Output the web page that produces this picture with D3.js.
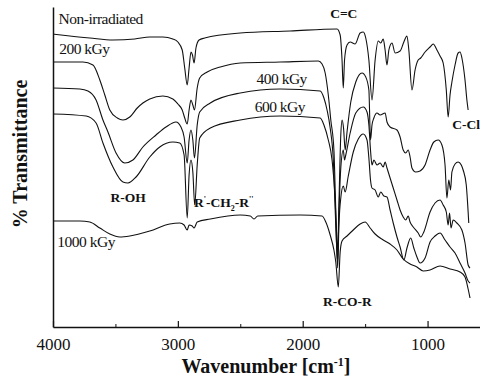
<!DOCTYPE html>
<html lang="en">
  <head>
    <meta charset="UTF-8" />
    <title>FTIR spectra</title>
    <script src="https://d3js.org/d3.v7.min.js"></script>
    <style>
      body { margin: 0; background: #fff; }
      svg text { font-family: "Liberation Serif", "Times New Roman", serif; fill: #111; }
    </style>
  </head>
  <body>
    <div id="chart"></div>
    <script>
      // [wavenumber cm-1, transmittance (arbitrary, stacked)]
      const nonIrradiated = [
        [4000,293],[3865,291],[3705,289],[3520,287],[3345,288],[3225,290],[3120,290],[3040,288],
        [3000,285],[2965,277],[2945,259],[2925,242],[2910,259],[2895,275],[2883,272],[2870,264],
        [2855,279],[2830,287],[2785,289],[2500,294],[2100,296],[1725,298],[1700,292],[1685,267],
        [1675,239],[1665,267],[1645,282],[1620,285],[1580,283],[1540,294],[1515,295],[1495,289],
        [1470,267],[1445,227],[1420,267],[1395,286],[1375,284],[1355,288],[1340,277],[1325,262],
        [1310,277],[1285,284],[1260,274],[1220,276],[1190,285],[1165,291],[1150,277],[1125,237],
        [1100,257],[1075,267],[1055,269],[1020,275],[980,280],[955,283],[925,277],[900,271],
        [875,264],[850,237],[835,210],[820,232],[805,245],[780,262],[755,274],[740,275],
        [725,269],[700,247],[685,227],[675,217]
      ];
      const kGy200 = [
        [4000,265],[3760,265],[3680,262],[3625,247],[3585,232],[3545,217],[3485,209],[3440,207],
        [3385,210],[3325,219],[3280,224],[3225,228],[3120,231],[3040,228],[3000,223],[2965,217],
        [2945,209],[2925,203],[2910,217],[2895,227],[2880,222],[2867,217],[2845,239],[2825,249],
        [2765,255],[2660,260],[2500,264],[2180,265],[1875,266],[1845,263],[1820,254],[1795,232],
        [1775,207],[1750,177],[1735,117],[1720,75],[1710,122],[1695,192],[1685,207],[1673,199],
        [1660,177],[1645,195],[1615,225],[1575,245],[1525,254],[1495,250],[1470,237],[1457,187],
        [1445,202],[1430,209],[1405,214],[1380,212],[1340,214],[1325,205],[1300,200],[1245,197],
        [1220,190],[1195,177],[1175,174],[1155,177],[1140,170],[1125,159],[1095,155],[1060,156],
        [1020,162],[980,177],[950,185],[915,187],[885,182],[860,162],[845,129],[830,147],
        [816,137],[805,155],[780,163],[755,165],[730,162],[715,157],[690,142],[675,115],[670,104]
      ];
      const kGy400 = [
        [4000,239],[3785,238],[3720,236],[3655,227],[3600,207],[3560,195],[3495,174],[3425,164],
        [3360,167],[3280,180],[3175,192],[3095,200],[3015,205],[2975,200],[2950,190],[2925,164],
        [2910,187],[2895,197],[2880,187],[2867,169],[2845,202],[2825,215],[2740,224],[2500,234],
        [2180,238],[1860,236],[1830,229],[1805,217],[1780,199],[1755,167],[1735,102],[1720,65],
        [1710,112],[1695,159],[1675,177],[1665,167],[1655,172],[1620,194],[1575,214],[1515,220],
        [1485,215],[1470,202],[1457,177],[1445,162],[1430,167],[1405,162],[1380,164],[1355,160],
        [1340,165],[1325,159],[1300,149],[1275,139],[1245,127],[1220,117],[1195,110],[1175,107],
        [1155,111],[1140,105],[1115,100],[1075,94],[1055,90],[1030,95],[980,115],[940,124],
        [900,127],[875,122],[850,115],[835,102],[824,114],[812,99],[795,107],[765,104],
        [725,97],[700,84],[675,62],[660,59]
      ];
      const kGy600 = [
        [4000,213],[3735,211],[3655,204],[3600,184],[3520,160],[3440,145],[3400,144],[3335,150],
        [3225,170],[3145,180],[3040,185],[2985,184],[2950,172],[2925,109],[2910,152],[2895,167],
        [2880,155],[2865,122],[2845,162],[2825,189],[2740,199],[2500,207],[2180,211],[1860,209],
        [1830,202],[1795,187],[1765,167],[1740,127],[1720,59],[1710,102],[1695,129],[1675,141],
        [1660,135],[1635,151],[1595,175],[1555,188],[1515,193],[1485,187],[1470,169],[1457,147],
        [1445,139],[1420,137],[1395,130],[1375,135],[1350,131],[1325,130],[1300,117],[1275,104],
        [1245,90],[1220,80],[1190,67],[1165,79],[1135,89],[1110,79],[1085,70],[1060,64],
        [1020,69],[980,85],[940,91],[900,94],[860,87],[820,80],[780,74],[740,64],
        [700,54],[675,46],[660,44]
      ];
      const kGy1000 = [
        [4000,106],[3785,106],[3705,105],[3625,99],[3545,93],[3465,90],[3385,91],[3225,96],
        [3065,103],[2985,104],[2950,102],[2925,97],[2910,102],[2885,101],[2870,99],[2845,105],
        [2740,108],[2500,112],[2420,111],[2390,108],[2360,111],[2020,112],[1845,111],[1815,105],
        [1780,92],[1750,77],[1735,65],[1715,40],[1700,75],[1685,86],[1645,91],[1595,97],
        [1540,103],[1500,105],[1460,99],[1420,93],[1355,87],[1300,83],[1245,77],[1195,68],
        [1140,63],[1085,60],[1035,56],[980,57],[900,61],[820,58],[740,55],[700,50],
        [675,38],[660,29]
      ];
      const majorTicks = [4000, 3000, 2000, 1000];
      const minorTicks = [3500, 2500, 1500];
      const seriesLabels = [
        { text: "Non-irradiated", wn: 3955, t: 303 },
        { text: "200 kGy", wn: 3950, t: 273 },
        { text: "400 kGy", wn: 2370, t: 243 },
        { text: "600 kGy", wn: 2385, t: 215 },
        { text: "1000 kGy", wn: 3965, t: 80 }
      ];

      const width = 480, height = 380;
      const x = d3.scaleLinear().domain([4000, 580]).range([53, 480]);
      const y = d3.scaleLinear().domain([0, 320]).range([327, 7]);

      const svg = d3.select("#chart").append("svg")
        .attr("width", width).attr("height", height);

      const line = d3.line()
        .x(d => x(d[0]))
        .y(d => y(d[1]))
        .curve(d3.curveMonotoneX);

      [nonIrradiated, kGy200, kGy400, kGy600, kGy1000].forEach(s => {
        svg.append("path")
          .datum(s)
          .attr("d", line)
          .attr("fill", "none")
          .attr("stroke", "#111")
          .attr("stroke-width", 1.1)
          .attr("stroke-linejoin", "round");
      });

      // x axis
      const xAxis = svg.append("g")
        .attr("transform", "translate(0,327)")
        .call(d3.axisBottom(x).tickValues(majorTicks).tickSizeInner(-6).tickSizeOuter(0).tickPadding(11).tickFormat(d3.format("d")));
      xAxis.select(".domain").attr("stroke", "#111").attr("stroke-width", 1.5);
      xAxis.selectAll(".tick line").attr("stroke", "#111").attr("stroke-width", 1.2);
      xAxis.selectAll(".tick text")
        .style("font-family", "Liberation Serif, serif")
        .style("font-size", "17px").attr("fill", "#111");

      svg.append("g")
        .attr("transform", "translate(0,327)")
        .call(d3.axisBottom(x).tickValues(minorTicks).tickSizeInner(-3).tickSizeOuter(0).tickFormat(""))
        .call(g => g.select(".domain").remove())
        .selectAll(".tick line").attr("stroke", "#111");

      // y axis (no ticks)
      svg.append("g")
        .attr("transform", "translate(53,0)")
        .call(d3.axisLeft(y).tickValues([]).tickSizeOuter(0))
        .select(".domain").attr("stroke", "#111").attr("stroke-width", 1.5);

      // axis titles
      const xt = svg.append("text")
        .attr("x", 266).attr("y", 373)
        .attr("text-anchor", "middle")
        .style("font-size", "20px").style("font-weight", "bold");
      xt.append("tspan").text("Wavenumber [cm");
      xt.append("tspan").attr("dy", -7).style("font-size", "12px").text("-1");
      xt.append("tspan").attr("dy", 7).text("]");

      svg.append("text")
        .attr("transform", "translate(27,154) rotate(-90)")
        .attr("text-anchor", "middle")
        .style("font-size", "20px").style("font-weight", "bold")
        .text("% Transmittance");

      // series labels
      svg.selectAll(".slabel")
        .data(seriesLabels)
        .enter().append("text")
        .attr("class", "slabel")
        .attr("x", d => x(d.wn))
        .attr("y", d => y(d.t))
        .style("font-size", "15.5px")
        .style("letter-spacing", "-0.5px")
        .text(d => d.text);

      // band labels
      const bold = (tx, ty) => svg.append("text").attr("x", tx).attr("y", ty)
        .style("font-size", "13.5px").style("font-weight", "bold");
      bold(x(1780), y(309)).text("C=C");
      bold(x(802), y(198)).text("C-Cl");
      bold(x(3540), y(125)).text("R-OH");
      bold(x(1837), y(21)).text("R-CO-R");

      const ch = bold(x(2870), y(120));
      ch.append("tspan").text("R");
      ch.append("tspan").attr("dy", -5).style("font-size", "8px").text("'");
      ch.append("tspan").attr("dy", 5).text("-CH");
      ch.append("tspan").attr("dy", 4).style("font-size", "8px").text("2");
      ch.append("tspan").attr("dy", -4).text("-R");
      ch.append("tspan").attr("dy", -5).style("font-size", "8px").text("''");
    </script>
  </body>
</html>
